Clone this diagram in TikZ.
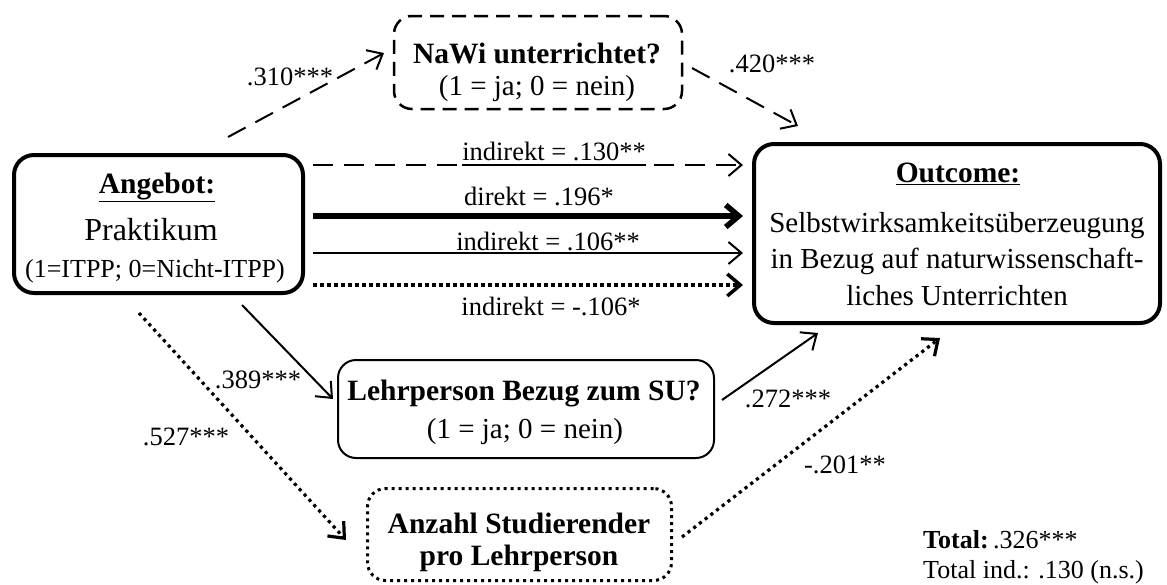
\documentclass[tikz,border=0pt]{standalone}
\usepackage{fontspec}
\setmainfont{Liberation Serif}
\usetikzlibrary{arrows.meta,calc}
\begin{document}
\begin{tikzpicture}[x=1pt,y=-1pt,
  box/.style={draw, rounded corners=20pt, inner sep=0pt},
  big/.style={font=\fontsize{29}{35}\selectfont, inner sep=0pt, anchor=base},
  bigb/.style={font=\fontsize{29.5}{35}\selectfont\bfseries, inner sep=0pt, anchor=base},
  mid/.style={font=\fontsize{26}{32}\selectfont, inner sep=0pt, anchor=base},
  lab/.style={font=\fontsize{26.5}{31}\selectfont, inner sep=0pt, anchor=base},
  tip/.style={-{Straight Barb[length=13pt,width=22pt]}},
  dashedline/.style={tip, line width=2pt, dash pattern=on 20pt off 11pt},
  solidline/.style={tip, line width=2pt},
  thickline/.style={tip, line width=5.5pt},
  dottedline/.style={tip, line width=3.5pt, dash pattern=on 3.5pt off 3.5pt},
  diagdotted/.style={tip, line width=3.2pt, dash pattern=on 3.2pt off 4pt},
]
\useasboundingbox (0,0) rectangle (1167,584);

% boxes
\node[box, line width=4pt, minimum width=289pt, minimum height=138pt] (ang) at (158.5,224) {};
\node[box, line width=4pt, minimum width=406pt, minimum height=179pt] (out) at (957,233.5) {};
\node[box, line width=2.5pt, rounded corners=18pt, dash pattern=on 14pt off 8pt, minimum width=288pt, minimum height=93pt] (nawi) at (538,62.5) {};
\node[box, line width=2pt, rounded corners=18pt, minimum width=376pt, minimum height=98pt] (lehr) at (526,409) {};
\node[box, line width=3pt, rounded corners=18pt, dash pattern=on 3pt off 4pt, minimum width=304pt, minimum height=92pt] (anz) at (519.5,534.5) {};

% box texts
\node[bigb] (angT1) at (157,193) {\underline{Angebot:}};
\node[big, font=\fontsize{32}{38}\selectfont] (angT2) at (151,240) {Praktikum};
\node[mid] (angT3) at (155,277) {(1=ITPP; 0=Nicht-ITPP)};

\node[bigb] (outT1) at (958,182) {\underline{Outcome:}};
\node[big] (outT2) at (957,232) {Selbstwirksamkeitsüberzeugung};
\node[big] (outT3) at (957,268) {in Bezug auf naturwissenschaft-};
\node[big] (outT4) at (957,305) {liches Unterrichten};

\node[bigb] (nawiT1) at (537,63) {NaWi unterrichtet?};
\node[big] (nawiT2) at (537,95) {(1 = ja; 0 = nein)};

\node[bigb] (lehrT1) at (524,400) {Lehrperson Bezug zum SU?};
\node[big] (lehrT2) at (525,438) {(1 = ja; 0 = nein)};

\node[bigb] (anzT1) at (519,533) {Anzahl Studierender};
\node[bigb] (anzT2) at (519,565) {pro Lehrperson};

% connector end points
\coordinate (s310) at (228,137);  \coordinate (e310) at (384,53);
\coordinate (s420) at (692,68);   \coordinate (e420) at (798,126);
\coordinate (sh1) at (313,165);   \coordinate (eh1) at (743,165);
\coordinate (sh2) at (313,216);   \coordinate (eh2) at (743,216);
\coordinate (sh3) at (313,253);   \coordinate (eh3) at (743,253);
\coordinate (sh4) at (313,285);   \coordinate (eh4) at (743,285);
\coordinate (s389) at (242,305);  \coordinate (e389) at (333,399);
\coordinate (s527) at (139,313);  \coordinate (e527) at (346,540);
\coordinate (s272) at (722,400);  \coordinate (e272) at (818,333);
\coordinate (s201) at (682,537);  \coordinate (e201) at (940,338);

% connectors
\draw[dashedline] (s310) -- (e310);
\draw[dashedline] (s420) -- (e420);
\draw[dashedline] (sh1) -- (eh1);
\draw[thickline] (sh2) -- (eh2);
\draw[solidline] (sh3) -- (eh3);
\draw[dottedline] (sh4) -- (eh4);
\draw[solidline] (s389) -- (e389);
\draw[diagdotted] (s527) -- (e527);
\draw[solidline] (s272) -- (e272);
\draw[diagdotted] (s201) -- (e201);

% labels
\node[lab] (l310) at (290,85) {.310***};
\node[lab] (l420) at (772,72) {.420***};
\node[lab] (lh1) at (554,160) {indirekt = .130**};
\draw[line width=2pt] (lh1.west |- sh1) -- (lh1.east |- sh1);
\node[lab] (lh2) at (539,205) {direkt = .196*};
\node[lab] (lh3) at (548,250) {indirekt = .106**};
\node[lab] (lh4) at (551,315) {indirekt = -.106*};
\node[lab] (l389) at (258,388) {.389***};
\node[lab] (l527) at (186,445) {.527***};
\node[lab] (l272) at (788,407) {.272***};
\node[lab] (l201) at (845,473) {-.201**};

\node[lab, font=\fontsize{26}{31}\selectfont, anchor=base west] (tot1) at (923,548) {\textbf{Total:}\,.326***};
\node[lab, font=\fontsize{26}{31}\selectfont, anchor=base west] (tot2) at (923,578) {Total ind.: .130 (n.s.)};
\end{tikzpicture}
\end{document}
